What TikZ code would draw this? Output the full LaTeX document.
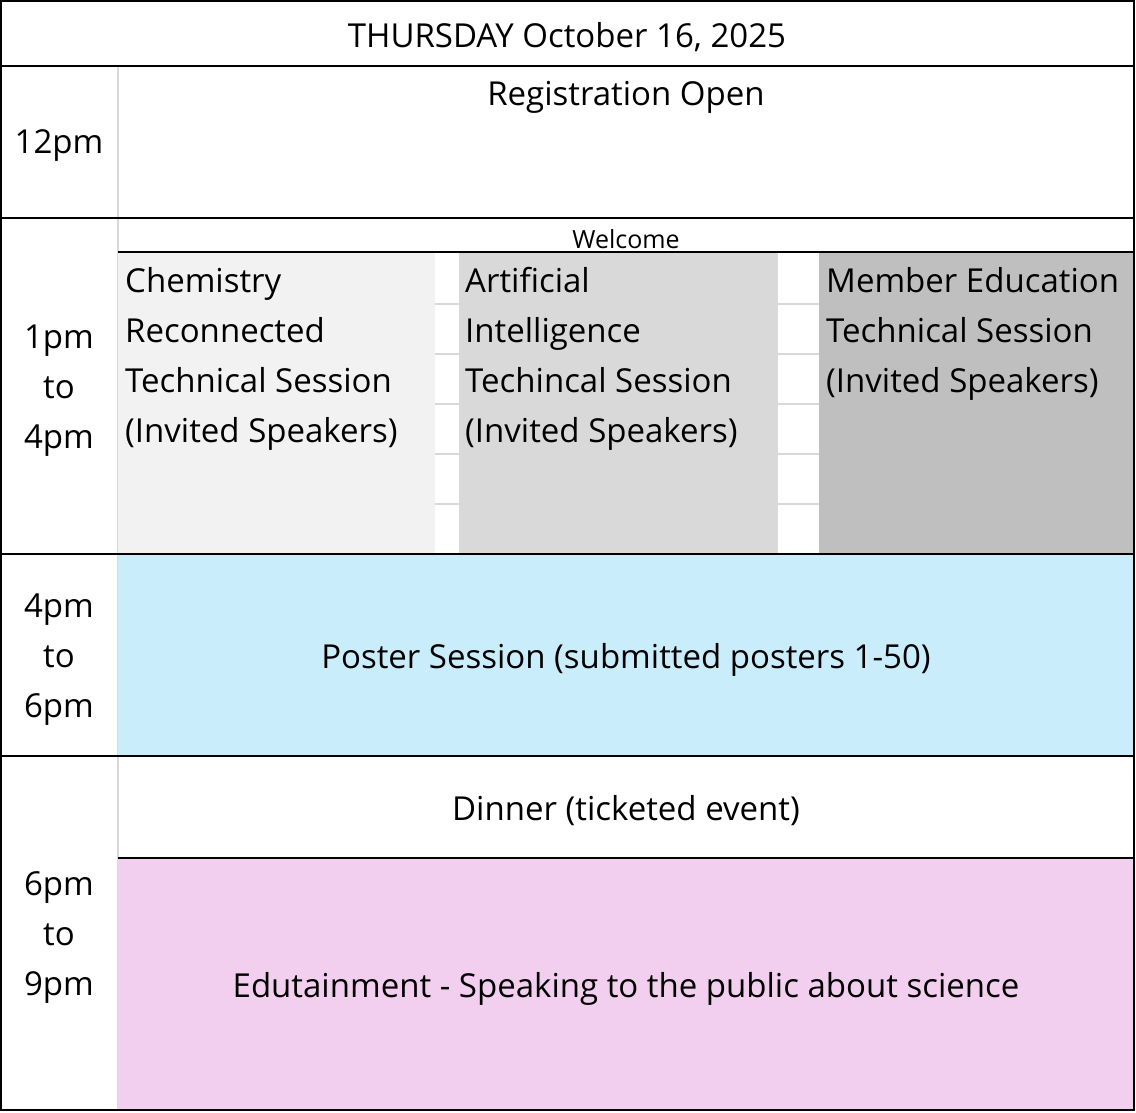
\documentclass[tikz,border=0pt]{standalone}
\usepackage{fontspec}
\setmainfont{Open Sans}
\usetikzlibrary{positioning}

\definecolor{chemgray}{HTML}{F2F2F2}
\definecolor{aigray}{HTML}{D9D9D9}
\definecolor{megray}{HTML}{BFBFBF}
\definecolor{posterblue}{HTML}{CAEDFB}
\definecolor{edupink}{HTML}{F2CEEF}
\definecolor{gridgray}{HTML}{D9D9D9}

\begin{document}
\begin{tikzpicture}[
  x=1pt,y=-1pt,
  every node/.style={inner sep=0pt,font=\fontsize{33}{50}\selectfont},
  rule/.style={line width=2pt,black},
  grid/.style={line width=1.2pt,gridgray},
  session/.style={anchor=north west,align=left},
  time/.style={align=center}
]
\useasboundingbox (0,0) rectangle (1136,1112);
% session blocks
\draw[grid] (118,66) -- (118,1110);
\fill[chemgray] (118,252) rectangle (435,554);
\fill[aigray] (459,252) rectangle (778,554);
\fill[megray] (819,252) rectangle (1134,554);
\fill[posterblue] (118,554) rectangle (1134,756);
\fill[edupink] (118,858) rectangle (1134,1110);
\foreach \y in {304,354,...,504}
  \draw[grid] (435,\y) -- (459,\y) (778,\y) -- (819,\y);
% rules
\draw[rule] (1,1) rectangle (1134,1110);
\foreach \y in {66,218,554,756}
  \draw[rule] (0,\y) -- (1135,\y);
\draw[rule] (118,252) -- (1134,252);
\draw[rule] (118,858) -- (1134,858);
% texts
\node (title) at (567,37) {THURSDAY October 16, 2025};
\node (reg) at (626,97) {Registration Open};
\node (welcome) at (626,239) [font=\fontsize{25}{30}\selectfont] {Welcome};
\node[session] (chem) at (125,267) {Chemistry\\Reconnected\\Technical Session\\(Invited Speakers)};
\node[session] (ai) at (465,267) {Artificial\\Intelligence\\Techincal Session\\(Invited Speakers)};
\node[session] (member) at (826,267) {Member Education\\Technical Session\\(Invited Speakers)};
\node (poster) at (626,660) {Poster Session (submitted posters 1-50)};
\node (dinner) at (626,811) {Dinner (ticketed event)};
\node (edu) at (626,989) {Edutainment - Speaking to the public about science};
\node[time] (t12) at (59,146) {12pm};
\node[time] (t1) at (59,391) {1pm\\to\\4pm};
\node[time] (t4) at (59,660) {4pm\\to\\6pm};
\node[time] (t6) at (59,938) {6pm\\to\\9pm};
\end{tikzpicture}
\end{document}
